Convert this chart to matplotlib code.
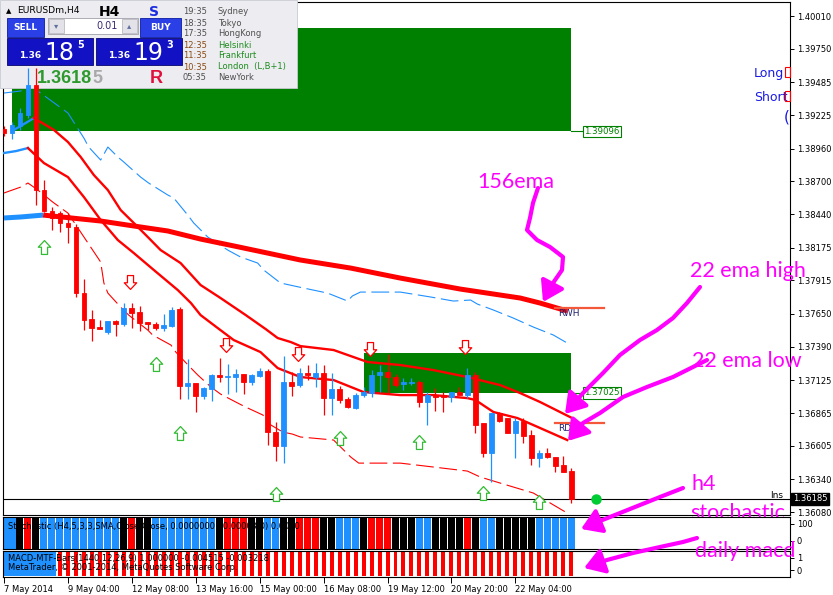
import numpy as np
import matplotlib
matplotlib.use("Agg")
import matplotlib.pyplot as plt
from matplotlib.path import Path
from matplotlib.patches import Rectangle, FancyArrowPatch
from matplotlib.transforms import Affine2D, blended_transform_factory

W, H = 833, 595

# EURUSDm H4 candles, 7 May - 23 May 2014
opens = [1.39115, 1.39083, 1.39139, 1.39226, 1.39463, 1.38631, 1.38465, 1.38449, 1.38370, 1.38338,
         1.37815, 1.37609, 1.37546, 1.37506, 1.37594, 1.37570, 1.37697, 1.37665, 1.37586, 1.37570,
         1.37538, 1.37554, 1.37689, 1.37079, 1.37102, 1.36999, 1.37055, 1.37166, 1.37150, 1.37150,
         1.37174, 1.37110, 1.37158, 1.37197, 1.36714, 1.36603, 1.37110, 1.37086, 1.37182, 1.37150,
         1.37182, 1.36983, 1.37055, 1.36975, 1.36904, 1.37007, 1.37023, 1.37166, 1.37189, 1.37150,
         1.37094, 1.37106, 1.37110, 1.36952, 1.37007, 1.37007, 1.36991, 1.37031, 1.37007, 1.37166,
         1.36785, 1.36548, 1.36865, 1.36825, 1.36706, 1.36801, 1.36690, 1.36508, 1.36548, 1.36516,
         1.36453, 1.36405]
highs = [1.39139, 1.39170, 1.39281, 1.39598, 1.39598, 1.38711, 1.38497, 1.38465, 1.38449, 1.38362,
         1.37926, 1.37681, 1.37601, 1.37594, 1.37601, 1.37736, 1.37736, 1.37712, 1.37586, 1.37586,
         1.37649, 1.37704, 1.37704, 1.37293, 1.37102, 1.37071, 1.37174, 1.37300, 1.37253, 1.37213,
         1.37174, 1.37174, 1.37221, 1.37213, 1.36793, 1.37316, 1.37189, 1.37221, 1.37245, 1.37261,
         1.37245, 1.37182, 1.37079, 1.36991, 1.37023, 1.37071, 1.37205, 1.37245, 1.37332, 1.37174,
         1.37142, 1.37142, 1.37126, 1.37031, 1.37063, 1.37031, 1.37031, 1.37071, 1.37221, 1.37189,
         1.36785, 1.36865, 1.36873, 1.36825, 1.36825, 1.36825, 1.36730, 1.36571, 1.36587, 1.36516,
         1.36524, 1.36429]
lows = [1.39059, 1.39035, 1.39107, 1.39202, 1.38513, 1.38457, 1.38315, 1.38299, 1.38211, 1.37784,
        1.37522, 1.37435, 1.37530, 1.37491, 1.37475, 1.37554, 1.37538, 1.37514, 1.37522, 1.37522,
        1.37514, 1.37546, 1.36975, 1.36975, 1.36873, 1.36975, 1.36960, 1.37110, 1.37015, 1.37031,
        1.37015, 1.37086, 1.37150, 1.36611, 1.36484, 1.36468, 1.36999, 1.37071, 1.37126, 1.37071,
        1.36849, 1.36849, 1.36944, 1.36904, 1.36896, 1.36991, 1.36991, 1.37031, 1.37023, 1.37071,
        1.37047, 1.37086, 1.36912, 1.36770, 1.36880, 1.36873, 1.36952, 1.37007, 1.36983, 1.36706,
        1.36516, 1.36318, 1.36793, 1.36706, 1.36508, 1.36627, 1.36453, 1.36437, 1.36508, 1.36397,
        1.36397, 1.36152]
closes = [1.39083, 1.39146, 1.39242, 1.39463, 1.38631, 1.38465, 1.38410, 1.38370, 1.38338, 1.37815,
          1.37601, 1.37538, 1.37530, 1.37594, 1.37570, 1.37697, 1.37657, 1.37578, 1.37570, 1.37538,
          1.37562, 1.37681, 1.37079, 1.37102, 1.36999, 1.37063, 1.37166, 1.37150, 1.37158, 1.37174,
          1.37110, 1.37166, 1.37197, 1.36714, 1.36603, 1.37110, 1.37079, 1.37182, 1.37166, 1.37182,
          1.36983, 1.37055, 1.36968, 1.36912, 1.37007, 1.37031, 1.37166, 1.37189, 1.37150, 1.37086,
          1.37110, 1.37110, 1.36952, 1.37007, 1.36991, 1.36991, 1.37031, 1.37007, 1.37166, 1.36770,
          1.36548, 1.36865, 1.36801, 1.36706, 1.36801, 1.36682, 1.36508, 1.36548, 1.36516, 1.36445,
          1.36397, 1.36185]

tick_bars = [0, 8, 16, 24, 32, 40, 48, 56, 64]
tick_labels = ["7 May 2014", "9 May 04:00", "12 May 08:00", "13 May 16:00", "15 May 00:00",
               "16 May 08:00", "19 May 12:00", "20 May 20:00", "22 May 04:00"]
price_ticks = [1.40010, 1.39750, 1.39485, 1.39225, 1.38960, 1.38700, 1.38440, 1.38175,
               1.37915, 1.37650, 1.37390, 1.37125, 1.36865, 1.36605, 1.36340, 1.36080]

# indicator lines (bar position, price)
ema156_bar = [0, 2.1, 4.9, 12.1, 16.3, 20.5, 24.6, 28.8, 33, 37.1, 43.4, 49.6, 57.1, 64.6, 67.1, 70.5]
ema156 = [1.38410, 1.38418, 1.38433, 1.38386, 1.38346, 1.38307, 1.38243, 1.38188, 1.38132, 1.38077,
          1.38013, 1.37934, 1.37847, 1.37776, 1.37736, 1.37673]
ema_hi_bar = [1, 2.1, 3.75, 6.25, 8, 9.6, 11.25, 13, 14.6, 16.25, 18, 19.6, 22.1, 24.6, 27.1,
              30.25, 32.75, 34.25, 35.9, 37.1, 41.25, 45.5, 49.6, 53.75, 58, 62.1, 64.6, 67.1, 71.1]
ema_hi = [1.39099, 1.39139, 1.39202, 1.39107, 1.39012, 1.38893, 1.38750, 1.38631, 1.38473, 1.38370,
          1.38259, 1.38156, 1.38053, 1.37879, 1.37776, 1.37641, 1.37530, 1.37459, 1.37427, 1.37395,
          1.37364, 1.37269, 1.37245, 1.37205, 1.37150, 1.37086, 1.37023, 1.36952, 1.36825]
ema_lo_bar = [0, 1.5, 3, 5, 8, 10, 12.1, 14.25, 16.25, 18.75, 21.75, 23.4, 24.6, 26.75, 28.75,
              32.1, 34.25, 37.1, 41.25, 45, 49.6, 53.75, 58, 59, 61.25, 64.25, 67.1, 70.5]
ema_lo = [1.38925, 1.38940, 1.38964, 1.38845, 1.38734, 1.38576, 1.38394, 1.38235, 1.38132, 1.37998,
          1.37839, 1.37736, 1.37641, 1.37538, 1.37443, 1.37348, 1.37221, 1.37150, 1.37126, 1.37031,
          1.37007, 1.37007, 1.36983, 1.36968, 1.36873, 1.36825, 1.36746, 1.36651]
band_lo_bar = [0, 2.1, 3, 4.25, 6.1, 8, 8.75, 12.1, 12.5, 13, 14.6, 15.6, 18, 18.6, 20.9, 21.5,
               23.4, 24.25, 25.9, 27.1, 29.25, 30.25, 32.4, 33.4, 34.9, 36.1, 37.1, 41.25, 43.4,
               44.4, 49.6, 53.75, 58, 59.6, 62.1, 66.25, 70.5]
band_lo = [1.38608, 1.38655, 1.38687, 1.38631, 1.38536, 1.38449, 1.38378, 1.38061, 1.37895, 1.37815,
           1.37704, 1.37641, 1.37522, 1.37483, 1.37403, 1.37348, 1.37221, 1.37166, 1.37071, 1.37015,
           1.36944, 1.36912, 1.36849, 1.36770, 1.36714, 1.36698, 1.36675, 1.36651, 1.36516, 1.36468,
           1.36468, 1.36437, 1.36405, 1.36358, 1.36310, 1.36231, 1.36072]
band_hi_bar = [0, 2.1, 3.4, 4.4, 8, 10, 10.6, 12.1, 13, 14.25, 15, 17.1, 18.1, 20.5, 21.25, 23,
               23.75, 25.5, 28, 29.6, 31.75, 32.5, 34.6, 37.5, 40.5, 43, 43.6, 44.6, 49.6, 53.4,
               56.25, 58.4, 59.25, 61.25, 63.75, 66.25, 68.75, 70.5]
band_hi = [1.39400, 1.39416, 1.39463, 1.39408, 1.39242, 1.39043, 1.38972, 1.38869, 1.38972, 1.38893,
           1.38853, 1.38734, 1.38687, 1.38592, 1.38568, 1.38433, 1.38370, 1.38259, 1.38156, 1.38101,
           1.38053, 1.37998, 1.37895, 1.37855, 1.37815, 1.37752, 1.37792, 1.37823, 1.37823, 1.37784,
           1.37752, 1.37760, 1.37728, 1.37681, 1.37617, 1.37546, 1.37483, 1.37419]

# supply zones and levels
zone_start = [1, 45]
zone_end = [71, 71]
zone_low = [1.39096, 1.37025]
zone_high = [1.39915, 1.37340]
level_names = ["RWH", "RDL"]
level_prices = [1.37697, 1.36785]
bid = 1.36185

# signal arrows
up_bars = [5, 19, 22, 34, 42, 52, 60, 67]
up_prices = [1.38180, 1.37253, 1.36706, 1.36223, 1.36667, 1.36635, 1.36231, 1.36159]
down_bars = [16, 28, 37, 46, 58]
down_prices = [1.37903, 1.37403, 1.37332, 1.37372, 1.37388]

# H4 stochastic and daily MACD bar colours (B blue, R red, K black)
stoch_colors = ("BBKRK" "BBBBBBBBBB" "KRKK" "BBBBBBBB" "KRRRKKBBKK"
                "RRRKKBBBKRRRKKK" "BBKKKKRKBBKKKKKBBBBB")
macd_colors = ("BBBBBBB" "RRRRRRRRRR" "RRRRRRRRRR" "RRRRRRRRRR" "RRRRRRRRRR"
               "RRRRRRRRRR" "RRRRRRRRRR" "RRRRR")

# hand drawn notes (pixel positions on the screenshot)
notes = [("156ema", 477, 188), ("22 ema high", 690, 277), ("22 ema low", 692, 367),
         ("h4", 692, 490), ("stochastic", 690, 519)]
arrow_paths = [
    [(538, 188), (533, 203), (530, 218), (527, 230), (537, 240), (550, 247), (563, 257),
     (562, 270), (553, 283), (543, 302)],
    [(700, 287), (687, 303), (673, 318), (657, 330), (640, 340), (620, 355), (603, 373),
     (583, 393), (565, 414)],
    [(707, 360), (693, 367), (673, 377), (647, 387), (623, 397), (600, 413), (583, 423), (568, 441)],
    [(683, 488), (660, 497), (640, 505), (620, 513), (600, 521), (581, 529)],
    [(697, 538), (683, 542), (660, 547), (633, 553), (607, 560), (584, 568)],
]

BLUE = "#1E90FF"
RED = "#FF0000"
GREEN = "#008000"
MAG = "#FF00FF"
cmap = {"B": BLUE, "R": RED, "K": "black"}

fig = plt.figure(figsize=(W / 100, H / 100), dpi=100)
px = Affine2D().scale(1 / W, -1 / H).translate(0, 1) + fig.transFigure


def box(x0, y0, x1, y1):
    return [x0 / W, 1 - y1 / H, (x1 - x0) / W, (y1 - y0) / H]


ax = fig.add_axes(box(3, 2, 790, 515))
ax_st = fig.add_axes(box(3, 517, 790, 549))
ax_md = fig.add_axes(box(3, 551, 790, 577))

for a in (ax, ax_st, ax_md):
    a.set_xlim(-0.125, 98.375)
    for s in a.spines.values():
        s.set_linewidth(0.8)
        s.set_color("black")
    a.yaxis.tick_right()
    a.tick_params(axis="y", length=3, width=0.7, labelsize=6, pad=2, direction="out")
    a.tick_params(axis="x", length=0, labelbottom=False)

# ---- main price chart ----
ax.set_ylim(1.36057, 1.40121)
ax.set_yticks(price_ticks)
ax.set_yticklabels([f"{p:.5f}" for p in price_ticks])

for s, e, lo, hi in zip(zone_start, zone_end, zone_low, zone_high):
    ax.add_patch(Rectangle((s, lo), e - s, hi - lo, color=GREEN, zorder=1, lw=0))
    ax.plot([e, e + 1.4], [lo, lo], color=GREEN, lw=0.8, zorder=2)
    ax.text(e + 1.6, lo, f"{lo:.5f}", color=GREEN, fontsize=6.2, va="center", ha="left",
            bbox=dict(facecolor="white", edgecolor=GREEN, lw=0.8, pad=1.0), zorder=3)

ax.plot(band_hi_bar, band_hi, color=BLUE, lw=0.8, dashes=(16, 5), zorder=2)
ax.plot(band_lo_bar, band_lo, color=RED, lw=0.8, dashes=(16, 5), zorder=2)
ax.plot(ema156_bar[:3], ema156[:3], color=BLUE, lw=3.6, zorder=3, solid_capstyle="butt")
ax.plot(ema156_bar[2:], ema156[2:], color=RED, lw=3.6, zorder=3, solid_capstyle="butt")
ax.plot(ema_hi_bar[:3], ema_hi[:3], color=BLUE, lw=1.7, zorder=3)
ax.plot(ema_hi_bar[2:], ema_hi[2:], color=RED, lw=1.7, zorder=3)
ax.plot(ema_lo_bar[:3], ema_lo[:3], color=BLUE, lw=1.7, zorder=3)
ax.plot(ema_lo_bar[2:], ema_lo[2:], color=RED, lw=1.7, zorder=3)

for name, p in zip(level_names, level_prices):
    ax.plot([69, 75.1], [p, p], color="#F4583A", lw=1.6, zorder=3)
    ax.text(69.3, p - 0.00008, name, color="#20206E", fontsize=6.5, va="top", ha="left", zorder=3)

ax.axhline(bid, color="black", lw=0.8, zorder=3.5)
ax.plot([74.1], [bid], "o", color="#00CC33", ms=6.5, zorder=6)

x = np.arange(len(opens))
o, h, l, c = map(np.array, (opens, highs, lows, closes))
cols = np.where(c >= o, BLUE, RED)
ax.vlines(x, l, h, colors=cols, lw=0.9, zorder=5)
ax.bar(x, np.abs(c - o), bottom=np.minimum(o, c), width=0.6, color=cols, edgecolor=cols,
       lw=0.6, zorder=6)

up_path = Path([(-0.22, -0.5), (0.22, -0.5), (0.22, 0.02), (0.45, 0.02), (0, 0.5),
                (-0.45, 0.02), (-0.22, 0.02), (-0.22, -0.5)], closed=True)
down_path = Path([(x0, -y0) for x0, y0 in up_path.vertices], closed=True)
ax.plot(up_bars, up_prices, ls="none", marker=up_path, ms=10, mfc="white", mec="#33BB33",
        mew=0.9, zorder=7)
ax.plot(np.array(down_bars) - 0.25, down_prices, ls="none", marker=down_path, ms=10, mfc="white",
        mec=RED, mew=0.9, zorder=7)

bt = blended_transform_factory(ax.transAxes, ax.transData)
ax.text(1.004, bid, f"{bid:.5f}", transform=bt, color="white", fontsize=6, va="center",
        ha="left", bbox=dict(facecolor="black", edgecolor="black", pad=1.2), zorder=9, clip_on=False)
ax.text(770, 498, "Ins", transform=px, fontsize=6.5, va="baseline", clip_on=False, zorder=4)

# EA labels at right
for label, yy in (("Long", 77), ("Short", 101)):
    ax.text(754, yy, label, transform=px, color="#1A1AE6", fontsize=9, va="baseline",
            clip_on=False, zorder=4)
    ax.add_patch(Rectangle((785, yy - 10), 5, 10, transform=px, fill=False, edgecolor=RED,
                           lw=0.8, clip_on=False, zorder=4))
ax.text(784, 122, "(", transform=px, color="#1A1AE6", fontsize=11, va="baseline",
        clip_on=False, zorder=4)


# ---- one click trading panel ----
def prect(x0, y0, x1, y1, z=4, **kw):
    ax.add_patch(Rectangle((x0, y0), x1 - x0, y1 - y0, transform=px, clip_on=False, zorder=z, **kw))


def ptext(xx, yy, s, z=8, **kw):
    ax.text(xx, yy, s, transform=px, clip_on=False, zorder=z, **kw)


prect(0, 0, 297, 88, facecolor="#ECECF1", edgecolor="#C9C9D2", lw=0.6)
ptext(6, 11, "▲", fontsize=5, va="center")
ptext(17, 11, "EURUSDm,H4", fontsize=6.6, va="center")
ptext(99, 12, "H4", fontsize=10, fontweight="bold", va="center")
ptext(149, 12, "S", fontsize=10, fontweight="bold", va="center", color="#1A2BE0")
prect(7, 18, 44, 37, facecolor="#2A40E6", edgecolor="#0A1AA0", lw=0.6, z=7.5)
prect(140, 18, 181, 37, facecolor="#2A40E6", edgecolor="#0A1AA0", lw=0.6, z=7.5)
ptext(25.5, 28, "SELL", color="white", fontsize=6.5, fontweight="bold", ha="center", va="center")
ptext(160.5, 28, "BUY", color="white", fontsize=6.5, fontweight="bold", ha="center", va="center")
prect(48, 18, 138, 34, facecolor="white", edgecolor="#A0A0A8", lw=0.6, z=7.5)
prect(49, 19, 64, 33, facecolor="#E2E2E8", edgecolor="#B0B0B8", lw=0.5, z=7.6)
prect(122, 19, 137, 33, facecolor="#E2E2E8", edgecolor="#B0B0B8", lw=0.5, z=7.6)
ptext(56.5, 26, "▾", fontsize=6, ha="center", va="center", color="#6070A0")
ptext(129.5, 26, "▴", fontsize=6, ha="center", va="center", color="#6070A0")
ptext(118, 26, "0.01", fontsize=7, ha="right", va="center", color="#3A2A70")
for x0, big, small in ((7, "18", "5"), (96, "19", "3")):
    prect(x0, 38, x0 + 86, 65, facecolor="#1212C4", edgecolor="#06066E", lw=0.6, z=7.5)
    ptext(x0 + 12, 58, "1.36", color="white", fontsize=6.5, fontweight="bold", va="baseline")
    ptext(x0 + 37, 60, big, color="white", fontsize=17, va="baseline")
    ptext(x0 + 70, 48, small, color="white", fontsize=7, fontweight="bold", va="baseline")
ptext(37, 83, "1.3618", color="#2E9A2E", fontsize=13, fontweight="bold", va="baseline",
      family="Liberation Sans")
ptext(92, 83, "5", color="#A8A8A8", fontsize=13, fontweight="bold", va="baseline",
      family="Liberation Sans")
ptext(150, 83, "R", color="#E0103C", fontsize=13, fontweight="bold", va="baseline",
      family="Liberation Sans")

clock_times = ["19:35", "18:35", "17:35", "12:35", "11:35", "10:35", "05:35"]
clock_cities = ["Sydney", "Tokyo", "HongKong", "Helsinki", "Frankfurt", "London  (L,B+1)", "NewYork"]
clock_open = [False, False, False, True, True, True, False]
for i, (t, city, is_open) in enumerate(zip(clock_times, clock_cities, clock_open)):
    yy = 12 + 11 * i
    ptext(183, yy, t, fontsize=6, va="center", color="#8B4A13" if is_open else "#505050")
    ptext(218, yy, city, fontsize=6, va="center", color="#1E8C1E" if is_open else "#505050")

# notes under the indicator panels
for s, xx, yy in notes:
    ax.text(xx, yy, s, transform=px, color=MAG, fontsize=15.5, family=["Lato", "DejaVu Sans"],
            va="baseline", ha="left", clip_on=False, zorder=9)

# ---- stochastic panel ----
ax_st.set_ylim(-47, 141)
ax_st.set_yticks([100, 0])
ax_st.set_yticklabels(["100", "0"])
lo_st, hi_st = ax_st.get_ylim()
ax_st.bar(x, hi_st - lo_st, bottom=lo_st, width=0.88, color=[cmap[k] for k in stoch_colors], lw=0)
ax_st.text(0.006, 0.7, "Stochastic (H4,5,3,3,SMA,Close/Close, 0.0000000 20.0000 80) 0.0000",
           transform=ax_st.transAxes, fontsize=6, va="center", ha="left")

# ---- MACD panel ----
ax_md.set_ylim(-0.58, 1.58)
ax_md.set_yticks([1, 0])
ax_md.set_yticklabels(["1", "0"])
lo_md, hi_md = ax_md.get_ylim()
md_cols = [cmap[k] for k in macd_colors]
md_w = [1.0 if k == "B" else 0.5 for k in macd_colors]
ax_md.bar(x, (hi_md - lo_md) * 0.9, bottom=lo_md + (hi_md - lo_md) * 0.05, width=md_w,
          color=md_cols, lw=0)
ax_md.text(0.006, 0.7, "MACD-MTF-Bars(1440,12,26,9) 1.000000 -0.004515 -0.003218",
           transform=ax_md.transAxes, fontsize=6, va="center", ha="left")
ax_md.text(0.006, 0.36, "MetaTrader, © 2001-2014, MetaQuotes Software Corp.",
           transform=ax_md.transAxes, fontsize=6, va="center", ha="left")
ax_md.set_xticks(tick_bars)
ax_md.set_xticklabels(tick_labels, ha="left", fontsize=6)
ax_md.tick_params(axis="x", length=4, width=0.7, pad=1.5, labelbottom=True, direction="out")

# ---- hand drawn arrows over everything ----
for pts in arrow_paths:
    fig.add_artist(FancyArrowPatch(path=Path(pts), transform=px, color=MAG, lw=3,
                                   arrowstyle="-|>,head_length=0.7,head_width=0.45",
                                   mutation_scale=17, joinstyle="round", capstyle="round"))
fig.text(695, 557, "daily macd", transform=px, color=MAG, fontsize=15.5,
         family=["Lato", "DejaVu Sans"], va="baseline", ha="left")

fig.savefig("out.png", dpi=100, facecolor="white")
